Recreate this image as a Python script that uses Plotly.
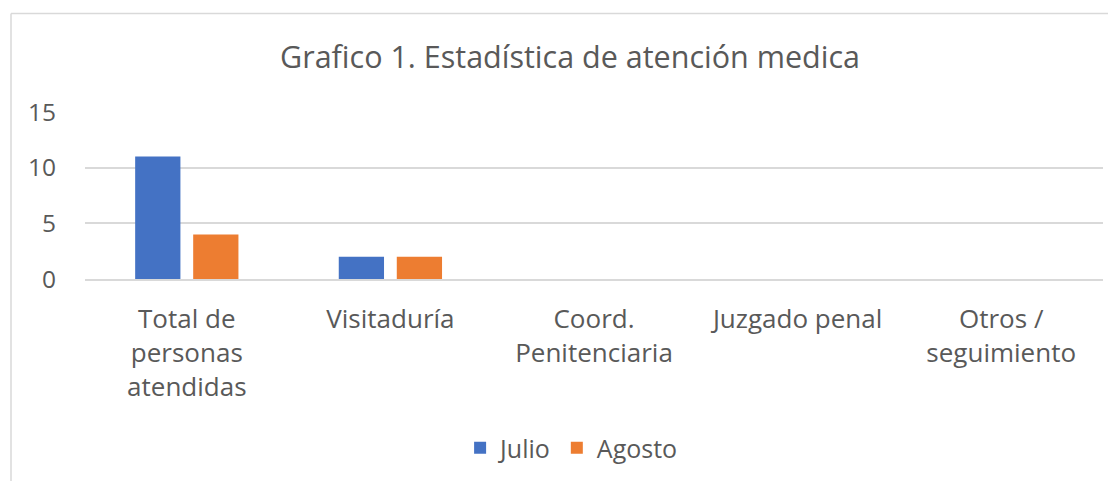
import plotly.graph_objects as go

categories = ["Total de<br>personas<br>atendidas", "Visitaduría", "Coord.<br>Penitenciaria", "Juzgado penal", "Otros /<br>seguimiento"]
julio = [11, 2, 0, 0, 0]
agosto = [4, 2, 0, 0, 0]
y_ticks = [0, 5, 10, 15]

FONT = "Open Sans"
TXT = "#595959"
GRID = "#D9D9D9"

fig = go.Figure()
fig.add_trace(go.Bar(name="Julio", x=categories, y=julio, marker=dict(color="#4472C4", line=dict(width=0))))
fig.add_trace(go.Bar(name="Agosto", x=categories, y=agosto, marker=dict(color="#ED7D31", line=dict(width=0))))

OFF = 8  # page body margin
W, H = 1116 - OFF, 481 - OFF
L, T = 85 - OFF, 112 - OFF
pw = 1018
R = W - L - pw
ph = 168
B = H - T - ph

bx = 11 - OFF
by = 13 - OFF

fig.update_layout(
    width=W, height=H,
    margin=dict(l=L, r=R, t=T, b=B, pad=0),
    paper_bgcolor="white", plot_bgcolor="white",
    barmode="group", bargap=0.43, bargroupgap=0.22,
    font=dict(family=FONT, color=TXT, size=25),
    title=dict(text="Grafico 1. Estadística de atención medica", x=(570 - OFF) / W, xanchor="center",
               y=1 - (57 - OFF) / H, yanchor="middle", yref="container",
               font=dict(family=FONT, size=30.5, color=TXT)),
    legend=dict(orientation="h", x=0.478, xanchor="center", y=(ph - (448 - 112)) / ph, yanchor="middle",
                font=dict(size=25, color=TXT), traceorder="normal"),
    xaxis=dict(showgrid=False, showline=True, linecolor=GRID, linewidth=1.5, ticks="",
               ticklabelstandoff=16, tickfont=dict(size=26, color=TXT)),
    yaxis=dict(range=[0, 15], tickvals=y_ticks, showgrid=True, gridcolor=GRID, gridwidth=1.5,
               zeroline=False, ticks="", ticklabelstandoff=28, tickfont=dict(size=24.5, color=TXT)),
    shapes=[
        dict(type="line", xref="paper", yref="paper", x0=(bx - L) / pw, x1=(W + 5 - L) / pw,
             y0=(T - by) / ph + 1, y1=(T - by) / ph + 1, line=dict(color=GRID, width=1.5)),
        dict(type="line", xref="paper", yref="paper", x0=(bx - L) / pw, x1=(bx - L) / pw,
             y0=-(B + 5) / ph, y1=(T - by) / ph + 1, line=dict(color=GRID, width=1.5)),
    ],
)

fig.write_html("out.html")
